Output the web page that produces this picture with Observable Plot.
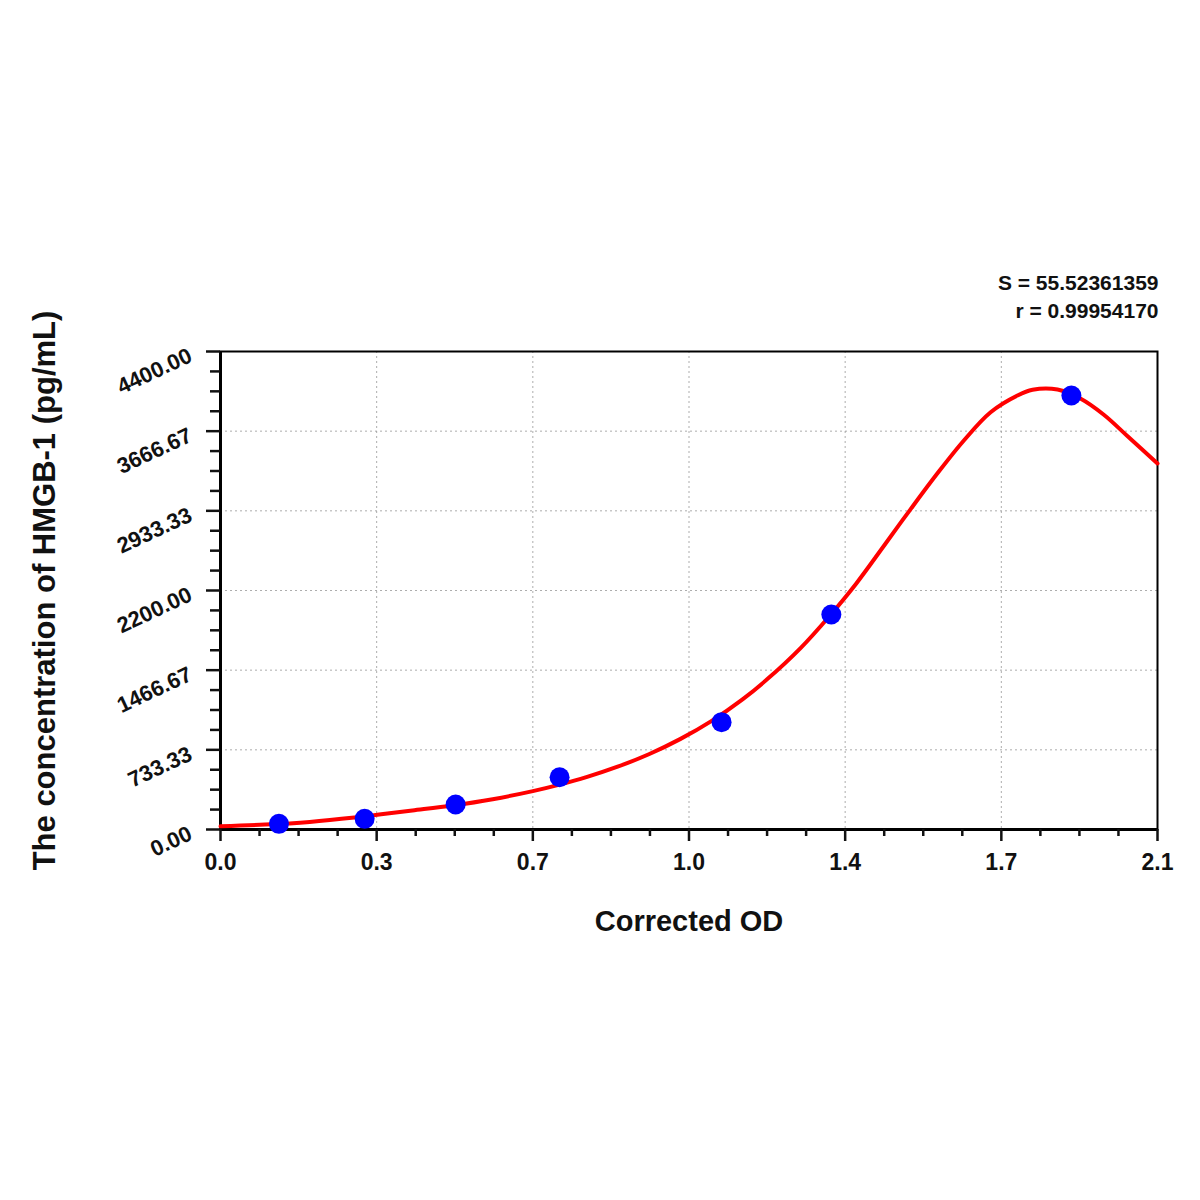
<!DOCTYPE html>
<html>
<head>
<meta charset="utf-8">
<script src="https://cdn.jsdelivr.net/npm/d3@7"></script>
<script src="https://cdn.jsdelivr.net/npm/@observablehq/plot@0.6"></script>
<style>
  html, body { margin: 0; padding: 0; background: #fff; }
  #chart svg { display: block; }
</style>
</head>
<body>
<div id="chart"></div>
<script>
// Standard points (Corrected OD, concentration pg/mL)
const pointOD = [0.131, 0.323, 0.527, 0.760, 1.123, 1.369, 1.907];
const pointConc = [52, 98, 230, 481, 988, 1979, 3995];

// Fitted curve
const curveOD = [0, 0.1, 0.2, 0.3, 0.36, 0.43, 0.52, 0.61, 0.70, 0.76, 0.82, 0.89, 0.96, 1.03, 1.10, 1.17, 1.225, 1.30, 1.367, 1.425, 1.487, 1.546, 1.606, 1.666, 1.726, 1.786, 1.82, 1.876, 1.927, 1.979, 2.033, 2.1];
const curveConc = [30, 45, 70, 110, 140, 175, 221, 279, 353, 413, 482, 578, 693, 832, 998, 1198, 1382, 1670, 1975, 2265, 2612, 2945, 3274, 3581, 3841, 3995, 4048, 4050, 3967, 3820, 3620, 3369];

// Axis ticks
const xTickValues = [0, 0.35, 0.7, 1.05, 1.4, 1.75, 2.1];
const xTickLabels = ["0.0", "0.3", "0.7", "1.0", "1.4", "1.7", "2.1"];
const yTickValues = [0, 733.33, 1466.67, 2200, 2933.33, 3666.67, 4400];
const yTickLabels = ["0.00", "733.33", "1466.67", "2200.00", "2933.33", "3666.67", "4400.00"];

const statLines = ["S = 55.52361359", "r = 0.99954170"];
const xTitle = "Corrected OD";
const yTitle = "The concentration of HMGB-1 (pg/mL)";

const points = pointOD.map((x, i) => ({x, y: pointConc[i]}));
const curve = curveOD.map((x, i) => ({x, y: curveConc[i]}));
const xMinor = d3.range(0, 24).map(i => i * 0.0875).filter((v, i) => i % 4 !== 0);
const yMinor = d3.range(0, 24).map(i => i * 4400 / 24).filter((v, i) => i % 4 !== 0);
const yTicks = yTickValues.map((v, i) => ({v, label: yTickLabels[i]}));
const xTicks = xTickValues.map((v, i) => ({v, label: xTickLabels[i]}));

const font = "'Liberation Sans', Arial, sans-serif";
const ink = "#111";

const chart = Plot.plot({
  width: 1200,
  height: 1200,
  marginTop: 351,
  marginRight: 43,
  marginBottom: 371,
  marginLeft: 220,
  style: {fontFamily: font, fontWeight: "bold", color: ink, background: "#fff"},
  x: {domain: [0, 2.1]},
  y: {domain: [0, 4400]},
  marks: [
    // grid
    Plot.gridX(xTickValues.slice(1, -1), {stroke: "#999", strokeOpacity: 0.8, strokeDasharray: "2,3", strokeWidth: 1}),
    Plot.gridY(yTickValues.slice(1, -1), {stroke: "#999", strokeOpacity: 0.8, strokeDasharray: "2,3", strokeWidth: 1}),
    // frame
    Plot.frame({stroke: "#000", strokeWidth: 2}),
    Plot.ruleX([0], {stroke: "#000", strokeWidth: 3}),
    Plot.ruleY([0], {stroke: "#000", strokeWidth: 3}),
    // x axis ticks major + minor
    Plot.axisX(xTickValues, {tickSize: 12, strokeWidth: 2.5, text: null, label: null}),
    Plot.axisX(xMinor, {tickSize: 7, strokeWidth: 2.5, text: null, label: null}),
    // y axis ticks major + minor
    Plot.axisY(yTickValues, {tickSize: 14, strokeWidth: 2.5, text: null, label: null}),
    Plot.axisY(yMinor, {tickSize: 10, strokeWidth: 2.5, text: null, label: null}),
    // x tick labels
    Plot.text(xTicks, {
      x: "v", frameAnchor: "bottom", text: "label", lineAnchor: "middle", textAnchor: "middle",
      dy: 33, fontSize: 23, fontWeight: "bold", fill: ink
    }),
    // rotated y tick labels
    Plot.text(yTicks, {
      x: () => 0, y: "v", text: "label", rotate: -25,
      textAnchor: "end", lineAnchor: "middle", dx: -30, dy: 3,
      fontSize: 22, fontWeight: "bold", fill: ink
    }),
    // curve and points
    Plot.line(curve, {x: "x", y: "y", stroke: "#ff0000", strokeWidth: 4, curve: "catmull-rom"}),
    Plot.dot(points, {x: "x", y: "y", r: 10, fill: "#0000ff", stroke: "none"}),
    // stats
    Plot.text([statLines[0]], {frameAnchor: "top-right", textAnchor: "end", lineAnchor: "middle", dy: -68, dx: 1, fontSize: 21, fontWeight: "bold", fill: ink, letterSpacing: "-0.3px"}),
    Plot.text([statLines[1]], {frameAnchor: "top-right", textAnchor: "end", lineAnchor: "middle", dy: -40, dx: 1, fontSize: 21, fontWeight: "bold", fill: ink, letterSpacing: "-0.3px"}),
    // titles
    Plot.text([xTitle], {frameAnchor: "bottom", lineAnchor: "middle", textAnchor: "middle", dy: 92, fontSize: 29, fontWeight: "bold", fill: ink}),
    Plot.text([yTitle], {frameAnchor: "left", rotate: -90, textAnchor: "middle", lineAnchor: "middle", dx: -175, fontSize: 31, fontWeight: "bold", fill: ink})
  ]
});

document.getElementById("chart").appendChild(chart);
</script>
</body>
</html>
